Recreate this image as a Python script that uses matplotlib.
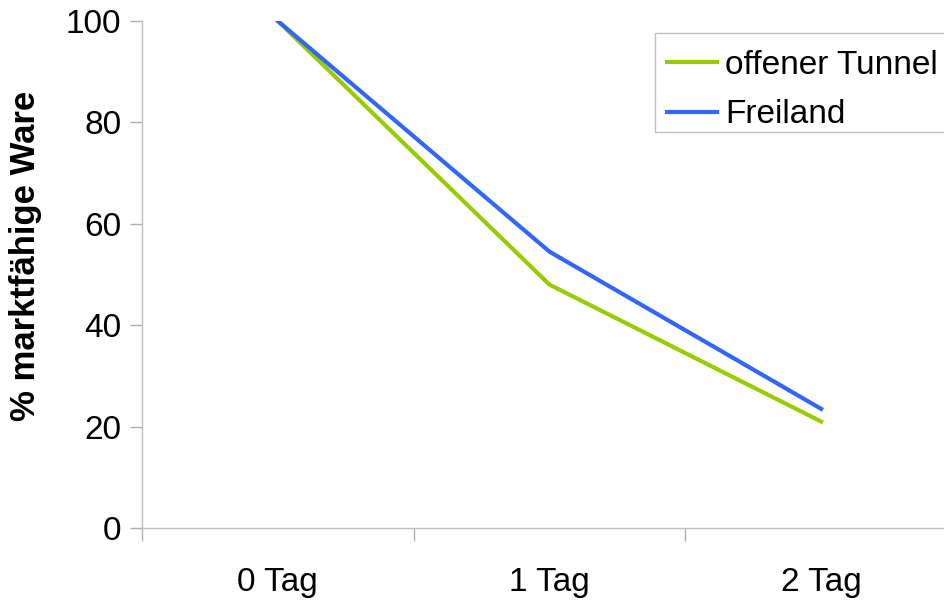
import matplotlib.pyplot as plt
from matplotlib.patches import Rectangle
import numpy as np

plt.rcParams['font.family'] = ['Liberation Sans', 'DejaVu Sans']

categories = ['0 Tag', '1 Tag', '2 Tag']
tunnel = [100, 48, 21]
freiland = [100, 54.5, 23.5]

fig = plt.figure(figsize=(9.45, 6.01), dpi=100)
ax = fig.add_axes([142/945, 1 - 528/601, (957 - 142)/945, (528 - 21)/601])

x = np.arange(len(categories))
ax.plot(x, tunnel, color='#99cc00', lw=3, label='offener Tunnel')
ax.plot(x, freiland, color='#3366ff', lw=3, label='Freiland')

ax.set_xlim(-0.5, 2.5)
ax.set_ylim(0, 100)
ax.set_yticks(range(0, 101, 20))
ax.set_xticks(x)
ax.set_xticklabels(categories)
ax.set_xticks([-0.5, 0.5, 1.5, 2.5], minor=True)
ax.tick_params(axis='x', which='major', length=0, pad=28, labelsize=24)
ax.tick_params(axis='x', which='minor', length=9, color='#b0b0b0', width=1)
ax.tick_params(axis='y', length=9, color='#b0b0b0', width=1, labelsize=24, pad=6)

for s in ['top', 'right']:
    ax.spines[s].set_visible(False)
for s in ['left', 'bottom']:
    ax.spines[s].set_color('#c0c0c0')
    ax.spines[s].set_linewidth(1)

ax.set_ylabel('% marktfähige Ware', fontsize=25, fontweight='bold',
              labelpad=17, y=0.536)

# legend entries without frame, box drawn separately (runs past the right edge)
leg = ax.legend(loc='upper left', bbox_to_anchor=(667/945, 1 - 50/601),
                bbox_transform=fig.transFigure, borderaxespad=0, borderpad=0,
                fontsize=24, frameon=False,
                handlelength=1.5, handletextpad=0.24, labelspacing=0.55)
fig.patches.append(Rectangle((655/945, 1 - 132/601), 0.5, 99/601,
                             transform=fig.transFigure, fill=False,
                             edgecolor='#c0c0c0', linewidth=1))

fig.savefig('out.png', dpi=100)
